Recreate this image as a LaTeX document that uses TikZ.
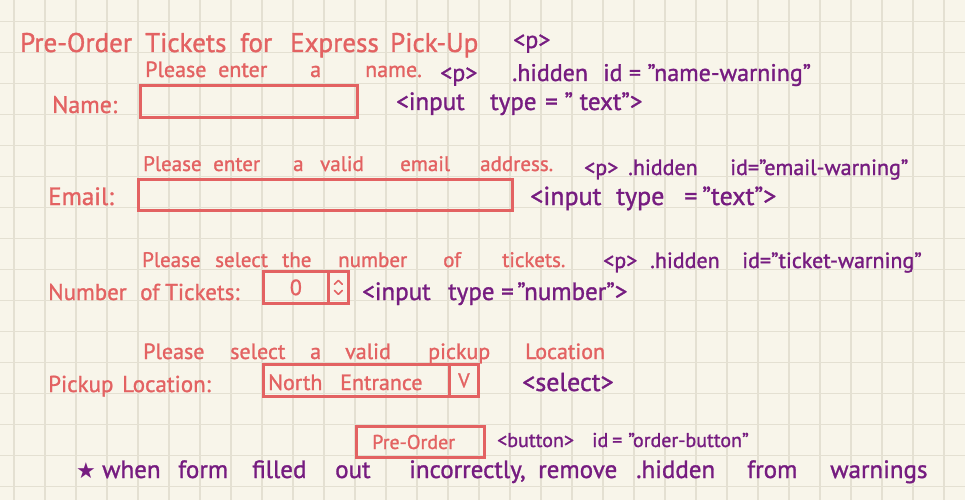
\documentclass[tikz,border=0pt]{standalone}
\usepackage{fontspec}
\setmainfont{PT Sans}[FakeBold=1.2]
\newfontfamily\symfont{DejaVu Sans}

\definecolor{paper}{HTML}{F8F5EA}
\definecolor{gridc}{HTML}{E4E0D2}
\definecolor{ink}{HTML}{E36262}
\definecolor{code}{HTML}{761C80}

\newcommand{\fs}[1]{\fontsize{#1}{#1}\selectfont}
% one row of words: name prefix, style, baseline, list of word/x pairs
\newcommand{\wordrow}[4]{%
  \foreach \w/\x [count=\i] in {#4} {\node[#2] (#1-\i) at (\x,#3) {\w};}}

\begin{document}
\begin{tikzpicture}[x=1pt,y=-1pt,
  lbl/.style={anchor=base west, inner sep=0pt, text=ink},
  tag/.style={anchor=base west, inner sep=0pt, text=code},
  field/.style={draw=ink, line width=2.8pt, anchor=north west, inner sep=0pt},
  chev/.style={draw=ink, line width=1.6pt, line cap=round, line join=round},
]
% paper with grid
\useasboundingbox (0,0) rectangle (965,500);
\fill[paper] (0,0) rectangle (965,500);
\foreach \k in {0,...,30} \draw[gridc, line width=1.2pt] (14+31*\k,0) -- (14+31*\k,500);
\foreach \k in {0,...,15} \draw[gridc, line width=1.2pt] (0,21.7+31*\k) -- (965,21.7+31*\k);

% heading
\wordrow{title}{lbl, font=\fs{27}}{52}{Pre-Order/20, Tickets/145, for/240, Express/290, Pick-Up/390}
\node[tag, font=\fs{24}] (titletag) at (513,48) {<p>};

% name row
\wordrow{namewarn}{lbl, font=\fs{22}}{77}{Please/145, enter/218, a/310, name./365}
\wordrow{namewarntag}{tag, font=\fs{24}}{81}{<p>/440, .hidden/512, {id = "name-warning"}/603}
\node[lbl, font=\fs{24}] (namelbl) at (52,113) {Name:};
\node[field, minimum width=217pt, minimum height=32pt] (namebox) at (139,84) {};
\wordrow{nametag}{tag, font=\fs{25}}{110}{<input/396, type/490, {= " text">}/545}

% email row
\wordrow{emailwarn}{lbl, font=\fs{21}}{171}{Please/143, enter/213, a/293, valid/320, email/400, address./480}
\wordrow{emailwarntag}{tag, font=\fs{22}}{175}{<p>/584, .hidden/628, {id="email-warning"}/730}
\node[lbl, font=\fs{25}] (emaillbl) at (48,205) {Email:};
\node[field, minimum width=374pt, minimum height=31pt] (emailbox) at (137,178) {};
\wordrow{emailtag}{tag, font=\fs{26}}{205}{<input/530, type/616, =/684, {"text">}/702}

% ticket row
\wordrow{ticketwarn}{lbl, font=\fs{21}}{267}{Please/142, select/215, the/282, number/338, of/443, tickets./502}
\wordrow{ticketwarntag}{tag, font=\fs{22}}{268}{<p>/603, .hidden/650, {id="ticket-warning"}/742}
\wordrow{ticketlbl}{lbl, font=\fs{23}}{300}{Number/48, of/140, Tickets:/165}
\node[field, minimum width=65pt, minimum height=32pt] (numbox) at (262,270) {};
\node[field, minimum width=20pt, minimum height=32pt] (spinbox) at (327,270) {};
\node[text=ink, font=\fs{22}, inner sep=0pt] (numval) at (numbox.center) {0};
\draw[chev] ([xshift=-4pt,yshift=3pt]spinbox.center) -- ([yshift=7pt]spinbox.center) -- ([xshift=4pt,yshift=3pt]spinbox.center);
\draw[chev] ([xshift=-4pt,yshift=-3pt]spinbox.center) -- ([yshift=-7pt]spinbox.center) -- ([xshift=4pt,yshift=-3pt]spinbox.center);
\wordrow{tickettag}{tag, font=\fs{25}}{300}{<input/362, type/448, =/501, {"number">}/517}

% pickup row
\wordrow{pickwarn}{lbl, font=\fs{22}}{359}{Please/143, select/230, a/310, valid/345, pickup/428, Location/525}
\wordrow{picklbl}{lbl, font=\fs{23}}{392}{Pickup/48, Location:/122}
\node[field, minimum width=186pt, minimum height=32pt] (selbox) at (262,363) {};
\node[field, minimum width=29pt, minimum height=32pt] (dropbox) at (448,363) {};
\wordrow{selval}{lbl, font=\fs{22}}{390}{North/268, Entrance/340}
\node[text=ink, font=\fs{20}, inner sep=0pt] (dropmark) at (dropbox.center) {V};
\node[tag, font=\fs{26}] (picktag) at (522,391) {<select>};

% submit button
\node[field, minimum width=128pt, minimum height=31pt] (button) at (355,425) {};
\node[lbl, font=\fs{20}] (buttontext) at (372,449) {Pre-Order};
\wordrow{buttontag}{tag, font=\fs{20}}{447}{<button>/497, id/592, =/612, "order-button"/628}

% note
\node[tag, font=\symfont\fs{22}] (star) at (76,478) {★};
\wordrow{note}{tag, font=\fs{25}}{478}{when/102, form/178, filled/252, out/335, {incorrectly,}/409, remove/538, .hidden/636, from/747, warnings/830}
\end{tikzpicture}
\end{document}
